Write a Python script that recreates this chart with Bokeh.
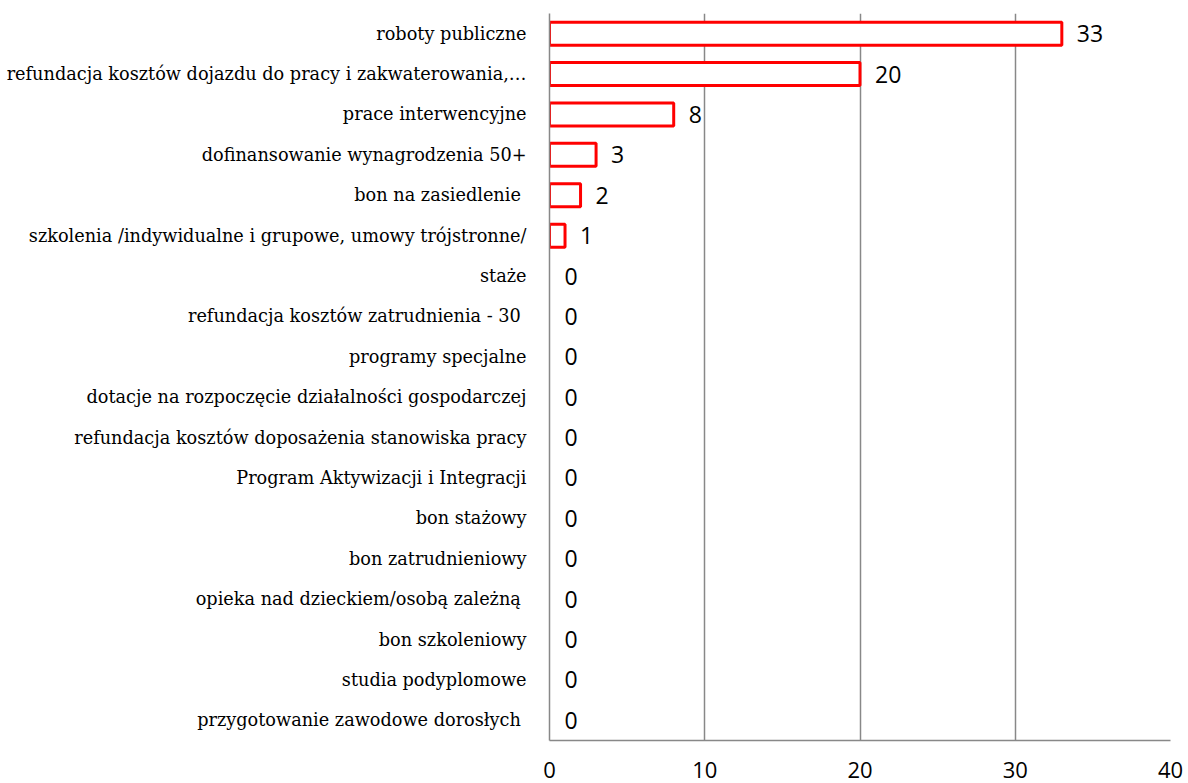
from bokeh.plotting import figure
from bokeh.models import ColumnDataSource, FactorRange, Range1d, FixedTicker
from bokeh.core.properties import value
from bokeh.embed import file_html
from bokeh.resources import INLINE

categories = [
    "roboty publiczne",
    "refundacja kosztów dojazdu do pracy i zakwaterowania,…",
    "prace interwencyjne",
    "dofinansowanie wynagrodzenia 50+",
    "bon na  zasiedlenie",
    "szkolenia /indywidualne i grupowe, umowy trójstronne/",
    "staże",
    "refundacja kosztów zatrudnienia - 30 ",
    "programy specjalne",
    "dotacje na rozpoczęcie działalności gospodarczej",
    "refundacja kosztów doposażenia stanowiska pracy",
    "Program Aktywizacji i Integracji",
    "bon stażowy",
    "bon zatrudnieniowy",
    "opieka nad dzieckiem/osobą zależną ",
    "bon szkoleniowy",
    "studia podyplomowe",
    "przygotowanie zawodowe dorosłych ",
]
values = [33, 20, 8, 3, 2, 1, 0, 0, 0, 0, 0, 0, 0, 0, 0, 0, 0, 0]
x_ticks = [0, 10, 20, 30, 40]

GRID = "#888888"

p = figure(
    width=1186, height=783,
    y_range=FactorRange(*reversed(categories), range_padding=0),
    x_range=Range1d(0, 40),
    output_backend="svg", toolbar_location=None,
    min_border_left=549, min_border_right=16, min_border_top=13, min_border_bottom=43,
)
p.outline_line_color = None

bar_cats = [c for c, v in zip(categories, values) if v > 0]
bar_vals = [v for v in values if v > 0]
p.hbar(y=bar_cats, left=0, right=bar_vals, height=0.57,
       fill_color="white", line_color="#FF0000", line_width=3)

src = ColumnDataSource(dict(y=categories, x=values, t=[str(v) for v in values]))
p.text(x="x", y="y", text="t", source=src, x_offset=15,
       text_align="left", text_baseline="middle",
       text_font=value("Open Sans"), text_font_size="23px", text_color="black")

p.xaxis.ticker = FixedTicker(ticks=x_ticks)
p.xaxis.axis_line_color = GRID
p.xaxis.axis_line_width = 1.5
p.xaxis.major_tick_line_color = None
p.xaxis.minor_tick_line_color = None
p.xaxis.major_label_standoff = 15
p.xaxis.major_label_text_font = "Open Sans"
p.xaxis.major_label_text_font_size = "22px"
p.xaxis.major_label_text_color = "black"

p.yaxis.axis_line_color = GRID
p.yaxis.axis_line_width = 1.5
p.yaxis.major_tick_line_color = None
p.yaxis.minor_tick_line_color = None
p.yaxis.major_label_standoff = 17
p.yaxis.major_label_text_font = "DejaVu Serif"
p.yaxis.major_label_text_font_size = "17.7px"
p.yaxis.major_label_text_color = "black"

p.xgrid.ticker = FixedTicker(ticks=x_ticks[1:])
p.xgrid.grid_line_color = GRID
p.xgrid.grid_line_width = 1.5
p.ygrid.grid_line_color = None

open("out.html", "w").write(file_html(p, INLINE))
